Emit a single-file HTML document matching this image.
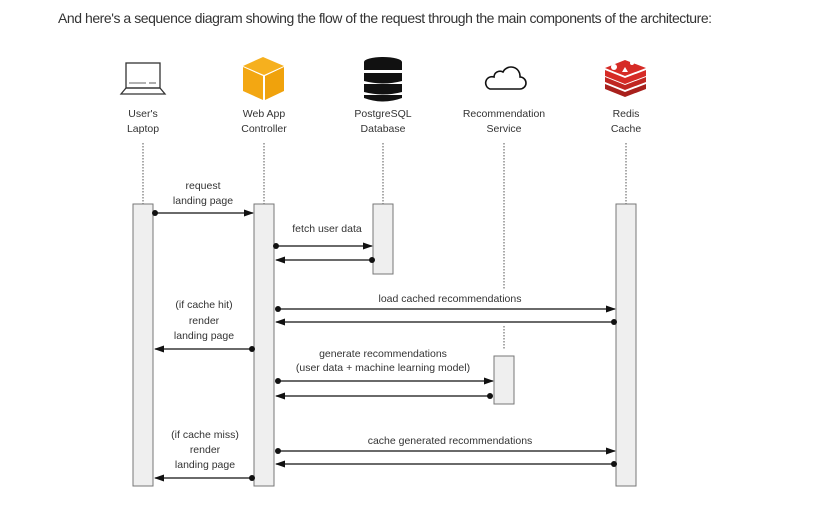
<!DOCTYPE html>
<html><head><meta charset="utf-8"><style>
html,body{margin:0;padding:0;background:#fff;width:816px;height:530px;overflow:hidden}
.t{position:absolute;left:58px;top:10px;font:14px "Liberation Sans",sans-serif;color:#333;white-space:nowrap;letter-spacing:-0.45px}
svg{position:absolute;left:0;top:0}
text{font-family:"Liberation Sans",sans-serif;font-size:10.5px;fill:#333;text-anchor:middle}
</style></head><body>
<div class="t">And here's a sequence diagram showing the flow of the request through the main components of the architecture:</div>
<svg width="816" height="530" viewBox="0 0 816 530">
<defs><marker id="a" markerWidth="10" markerHeight="8" refX="9" refY="4" orient="auto" markerUnits="userSpaceOnUse"><path d="M0,0.5 L10,4 L0,7.5 Z" fill="#111"/></marker></defs>
<g stroke="#333" fill="none" stroke-width="1.3">
<rect x="126" y="63" width="34" height="25"/>
<path d="M121,94 L126,88 L160,88 L165,94 Z"/>
<line x1="129" y1="83" x2="146" y2="83" stroke-width="0.8"/><line x1="149" y1="83" x2="156" y2="83" stroke-width="0.8"/>
</g>
<g>
<polygon points="263,57 284,66 264,75 243,66" fill="#f6b01e"/>
<polygon points="243,67 263,76 263,100 243,91" fill="#f3a712"/>
<polygon points="265,76 284,67 284,91 265,100" fill="#f0a20c"/>
</g>
<g fill="#111">
<ellipse cx="383" cy="62" rx="19" ry="5"/>
<rect x="364" y="62" width="38" height="8"/>
<path d="M364,73 h38 v8 q-19,5 -38,0 z"/>
<path d="M364,84 h38 v8 q-19,5 -38,0 z"/>
<path d="M364,95 h38 v3 q-19,7 -38,0 z"/>
</g>
<path d="M490,89 h30 a6,6 0 0 0 0,-12 a9,9 0 0 0 -17,-5 a6,6 0 0 0 -9,5 a6,6 0 0 0 -4,12 z" fill="none" stroke="#111" stroke-width="1.6"/>
<g fill="#d62b26">
<path d="M605,84 l20,8 l21,-8 v5 l-21,8 l-20,-8 z" fill="#a8201c"/>
<path d="M605,77 l20,8 l21,-8 v5 l-21,8 l-20,-8 z" fill="#c02621"/>
<path d="M605,68 l20,-8 l21,8 l-21,8 z"/>
<path d="M605,70 l20,8 l21,-8 v6 l-21,8 l-20,-8 z" fill="#d62b26"/>
<circle cx="614" cy="67" r="3" fill="#fff"/><polygon points="622,72 628,72 625,67" fill="#fff"/><circle cx="632" cy="63" r="2" fill="#fff"/>
</g>
<text x="143" y="117">User's</text><text x="143" y="132">Laptop</text>
<text x="264" y="117">Web App</text><text x="264" y="132">Controller</text>
<text x="383" y="117">PostgreSQL</text><text x="383" y="132">Database</text>
<text x="504" y="117">Recommendation</text><text x="504" y="132">Service</text>
<text x="626" y="117">Redis</text><text x="626" y="132">Cache</text>
<g stroke="#555" stroke-width="1" stroke-dasharray="1.5,1.5">
<line x1="143" y1="143" x2="143" y2="204"/><line x1="264" y1="143" x2="264" y2="204"/>
<line x1="383" y1="143" x2="383" y2="204"/><line x1="504" y1="143" x2="504" y2="290"/>
<line x1="504" y1="326" x2="504" y2="350"/><line x1="626" y1="143" x2="626" y2="204"/>
</g>
<g fill="#efefef" stroke="#777" stroke-width="1">
<rect x="133" y="204" width="20" height="282"/><rect x="254" y="204" width="20" height="282"/>
<rect x="373" y="204" width="20" height="70"/><rect x="494" y="356" width="20" height="48"/>
<rect x="616" y="204" width="20" height="282"/>
</g>
<g stroke="#111" stroke-width="1.3" marker-end="url(#a)">
<line x1="155" y1="213" x2="253" y2="213"/>
<line x1="276" y1="246" x2="372" y2="246"/><line x1="372" y1="260" x2="276" y2="260"/>
<line x1="278" y1="309" x2="615" y2="309"/><line x1="614" y1="322" x2="276" y2="322"/>
<line x1="252" y1="349" x2="155" y2="349"/>
<line x1="278" y1="381" x2="493" y2="381"/><line x1="490" y1="396" x2="276" y2="396"/>
<line x1="278" y1="451" x2="615" y2="451"/><line x1="614" y1="464" x2="276" y2="464"/>
<line x1="252" y1="478" x2="155" y2="478"/>
</g>
<g fill="#111">
<circle cx="155" cy="213" r="3"/><circle cx="276" cy="246" r="3"/><circle cx="372" cy="260" r="3"/>
<circle cx="278" cy="309" r="3"/><circle cx="614" cy="322" r="3"/><circle cx="252" cy="349" r="3"/>
<circle cx="278" cy="381" r="3"/><circle cx="490" cy="396" r="3"/><circle cx="278" cy="451" r="3"/>
<circle cx="614" cy="464" r="3"/><circle cx="252" cy="478" r="3"/>
</g>
<text x="203" y="189">request</text><text x="203" y="204">landing page</text>
<text x="327" y="232">fetch user data</text>
<text x="450" y="302">load cached recommendations</text>
<text x="204" y="308">(if cache hit)</text><text x="204" y="324">render</text><text x="204" y="339">landing page</text>
<text x="383" y="357">generate recommendations</text><text x="383" y="371">(user data + machine learning model)</text>
<text x="205" y="438">(if cache miss)</text><text x="205" y="453">render</text><text x="205" y="468">landing page</text>
<text x="450" y="444">cache generated recommendations</text>
</svg>
</body></html>
